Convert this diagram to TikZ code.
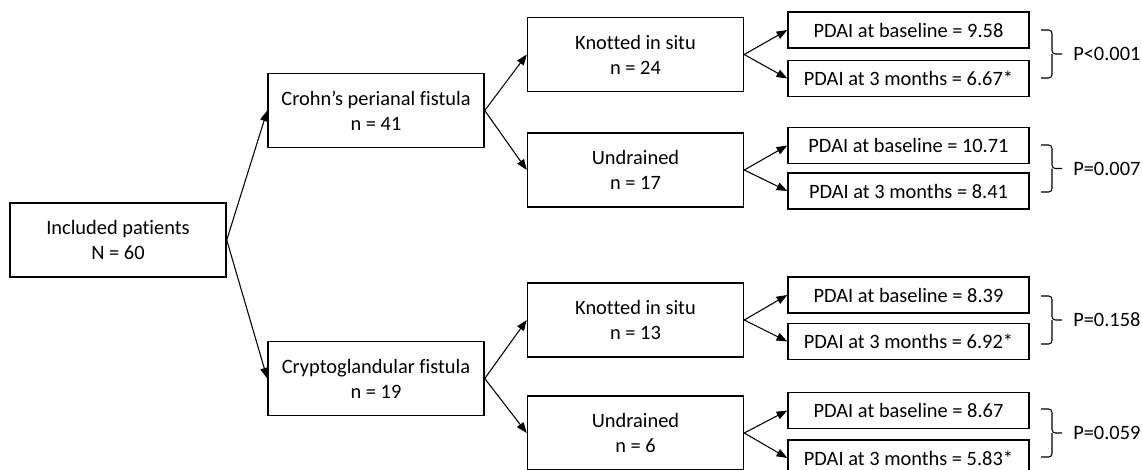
\documentclass[tikz,border=0pt]{standalone}
\usepackage{fontspec}
\setmainfont[Ligatures=NoCommon]{Carlito}
\usetikzlibrary{arrows.meta}
\begin{document}
\begin{tikzpicture}[x=0.75pt,y=-0.75pt,
	box/.style={draw,line width=1.1pt,minimum width=162pt,minimum height=55.5pt,align=center,inner sep=0pt,font=\fontsize{15.3}{18.75}\selectfont},
	pdai/.style={draw,line width=1.1pt,minimum width=180.75pt,minimum height=27pt,inner sep=0pt,font=\fontsize{15.3}{18}\selectfont},
	arr/.style={line width=0.8pt,-{Triangle[length=8pt,width=6pt]}},
	brk/.style={line width=0.8pt,rounded corners=2.5pt},
	pval/.style={anchor=west,inner sep=0pt,font=\fontsize{15.3}{18}\selectfont}]
	\useasboundingbox (0,0) rectangle (1142,469);
	\node[box] (inc) at (118,240) {Included patients\\N = 60};
	\node[box] (cpf) at (376,110.5) {Crohn’s perianal fistula\\n = 41};
	\node[box] (cgf) at (376,378.5) {Cryptoglandular fistula\\n = 19};
	\node[box] (kis1) at (635.5,54.5) {Knotted in situ\\n = 24};
	\node[box] (und1) at (635.5,170) {Undrained\\n = 17};
	\node[box] (kis2) at (635.5,320) {Knotted in situ\\n = 13};
	\node[box] (und2) at (635.5,433) {Undrained\\n = 6};
	\node[pdai] (base1) at (908.5,30) {PDAI at baseline = 9.58};
	\node[pdai] (mon1) at (908.5,78.5) {PDAI at 3 months = 6.67*};
	\node[pdai] (base2) at (908.5,145.5) {PDAI at baseline = 10.71};
	\node[pdai] (mon2) at (908.5,191) {PDAI at 3 months = 8.41};
	\node[pdai] (base3) at (908.5,295) {PDAI at baseline = 8.39};
	\node[pdai] (mon3) at (908.5,341.5) {PDAI at 3 months = 6.92*};
	\node[pdai] (base4) at (908.5,410.5) {PDAI at baseline = 8.67};
	\node[pdai] (mon4) at (908.5,458) {PDAI at 3 months = 5.83*};
	\draw[arr] (inc.east) -- (cpf.west);
	\draw[arr] (inc.east) -- (cgf.west);
	\draw[arr] (cpf.east) -- (kis1.west);
	\draw[arr] (cpf.east) -- (und1.west);
	\draw[arr] (cgf.east) -- (kis2.west);
	\draw[arr] (cgf.east) -- (und2.west);
	\draw[arr] (kis1.east) -- (base1.west);
	\draw[arr] (kis1.east) -- (mon1.west);
	\draw[arr] (und1.east) -- (base2.west);
	\draw[arr] (und1.east) -- (mon2.west);
	\draw[arr] (kis2.east) -- (base3.west);
	\draw[arr] (kis2.east) -- (mon3.west);
	\draw[arr] (und2.east) -- (base4.west);
	\draw[arr] (und2.east) -- (mon4.west);
	% brackets
	\draw[brk] (1041,30) -| (1052,54) -- (1062,54);
	\draw[brk] (1041,78) -| (1052,54);
	\draw[brk] (1041,145) -| (1052,168.5) -- (1062,168.5);
	\draw[brk] (1041,192) -| (1052,168.5);
	\draw[brk] (1041,296) -| (1052,320) -- (1062,320);
	\draw[brk] (1041,344) -| (1052,320);
	\draw[brk] (1041,409) -| (1052,433) -- (1062,433);
	\draw[brk] (1041,457) -| (1052,433);
	\node[pval] (p1) at (1073,54) {P<0.001};
	\node[pval] (p2) at (1073,168.5) {P=0.007};
	\node[pval] (p3) at (1073,320) {P=0.158};
	\node[pval] (p4) at (1073,433) {P=0.059};
\end{tikzpicture}
\end{document}
